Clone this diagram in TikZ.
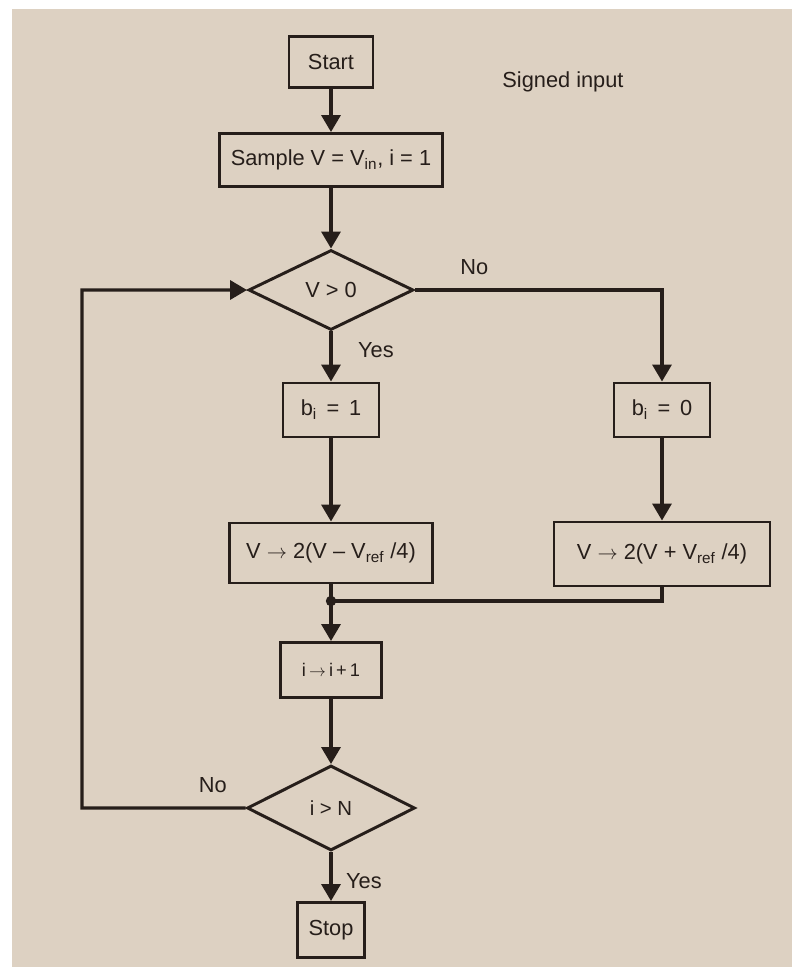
\documentclass[tikz,border=0pt]{standalone}
\usepackage{fontspec}
\setmainfont{Liberation Sans}
\usetikzlibrary{shapes.geometric,arrows.meta}
\definecolor{paper}{RGB}{221,209,194}
\definecolor{ink}{RGB}{38,30,26}

\begin{document}
\begin{tikzpicture}[node distance=3cm, auto,
    block/.style={rectangle, draw=ink, line width=2.1pt, text=ink, inner sep=2pt, font=\fontsize{15.5}{18}\selectfont},
    decision/.style={diamond, draw=ink, line width=2.1pt, text=ink, inner sep=0pt, font=\fontsize{15.5}{18}\selectfont},
    flow/.style={draw=ink, line width=2.4pt, -{Triangle[length=0.42cm,width=0.47cm]}},
    wire/.style={draw=ink, line width=2.4pt},
    tag/.style={text=ink, inner sep=1pt, font=\fontsize{15.5}{18}\selectfont}]

    % paper
    \useasboundingbox (-8.275,1.55) rectangle (11.525,-22.625);
    \fill [white] (-8.275,1.55) rectangle (11.525,-22.625);
    \fill [paper] (-7.975,1.325) rectangle (11.525,-22.625);

    \node [block, minimum width=2.1cm, minimum height=1.275cm] (start) {Start};
    \node [tag, right of=start, node distance=5.8cm, yshift=-0.5cm] (title) {Signed input};
    \node [block, below of=start, node distance=2.45cm, minimum width=5.575cm, minimum height=1.325cm] (sample) {Sample V = V\textsubscript{in}, i = 1};
    \node [decision, below of=sample, node distance=3.25cm, minimum width=4.125cm, minimum height=2cm] (test) {V > 0};
    \node [block, below of=test, minimum width=2.4cm, minimum height=1.35cm] (one) {b\textsubscript{i} \,=\, 1};
    \node [block, right of=one, node distance=8.275cm, minimum width=2.4cm, minimum height=1.35cm] (zero) {b\textsubscript{i} \,=\, 0};
    \node [block, below of=one, node distance=3.575cm, minimum width=5.075cm, minimum height=1.5cm] (down) {V $\rightarrow$ 2(V – V\textsubscript{ref} /4)};
    \node [block, below of=zero, node distance=3.6cm, minimum width=5.4cm, minimum height=1.6cm] (up) {V $\rightarrow$ 2(V + V\textsubscript{ref} /4)};
    \coordinate [below of=down, node distance=1.2cm] (join);
    \node [block, below of=down, node distance=2.925cm, minimum width=2.525cm, minimum height=1.375cm, font=\fontsize{13}{15}\selectfont] (next) {i\,$\rightarrow$\,i\,+\,1};
    \node [decision, below of=next, node distance=3.45cm, minimum width=4.2cm, minimum height=2.125cm, font=\fontsize{14.5}{17}\selectfont] (done) {i > N};
    \node [block, below of=done, node distance=3.05cm, minimum width=1.675cm, minimum height=1.375cm] (stop) {Stop};
    \coordinate (back) at (-6.225,-5.7);

    \draw [flow] (start) -- (sample);
    \draw [flow] (sample) -- (test);
    \draw [flow] (test) -- node [tag, pos=0.38, right=0.6cm] {Yes} (one);
    \draw [flow] (test.east) -| node [tag, pos=0.12, above=0.3cm] {No} (zero);
    \draw [flow] (one) -- (down);
    \draw [flow] (zero) -- (up);
    \draw [wire] (up) |- (join);
    \fill [ink] (join) circle (0.13cm);
    \draw [flow] (down) -- (next);
    \draw [flow] (next) -- (done);
    \draw [flow] (done) -- node [tag, pos=0.6, right=0.3cm] {Yes} (stop);
    \draw [flow] (done.west) -| node [tag, pos=0.1, above=0.3cm] {No} (back) -- (test.west);
\end{tikzpicture}
\end{document}
